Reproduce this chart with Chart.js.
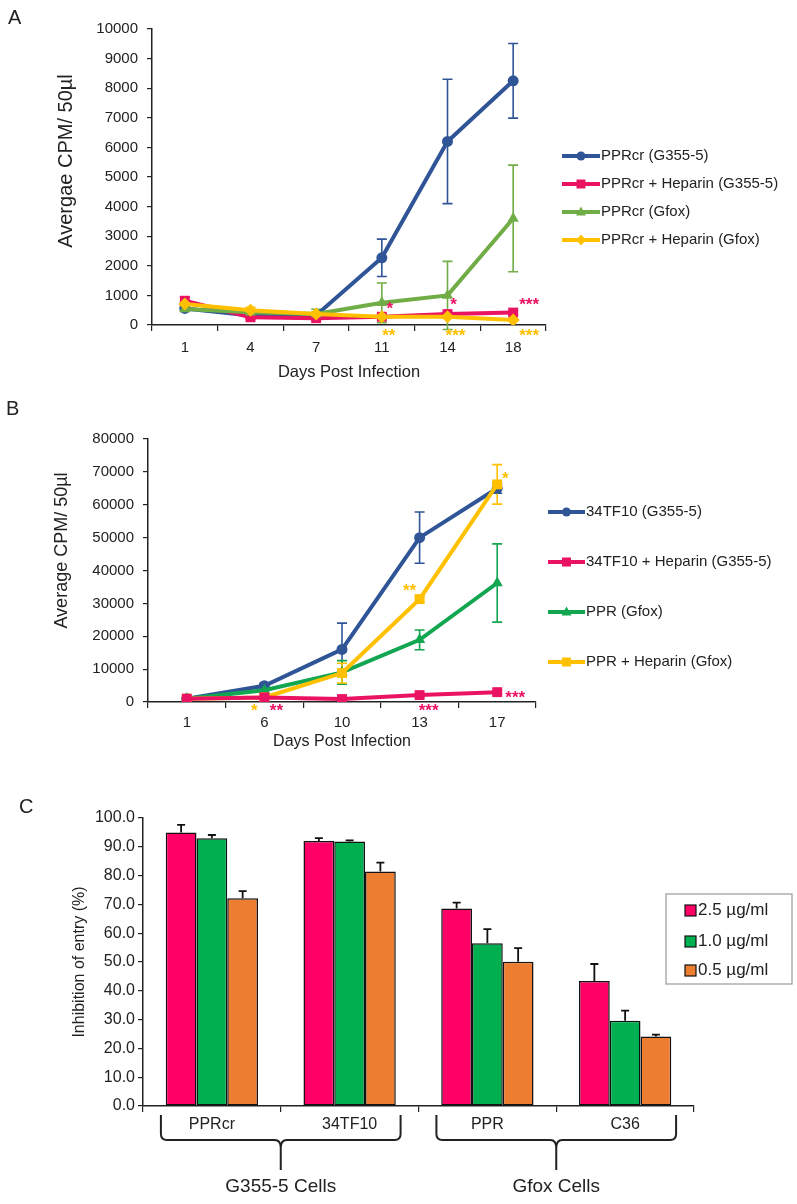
<!DOCTYPE html>
<html>
<head>
<meta charset="utf-8">
<script src="https://cdn.jsdelivr.net/npm/chart.js@4.4.1/dist/chart.umd.min.js"></script>
<style>
  body { margin: 0; background: #fff; }
  #page { position: relative; width: 797px; height: 1204px; overflow: hidden; font-family: "Liberation Sans", Arial, sans-serif; color: #222; }
  canvas { position: absolute; left: 0; }
  .tag { position: absolute; font-size: 20px; }
</style>
</head>
<body>
<div id="page">
  <canvas id="chartA" width="797" height="390" style="top:0"></canvas>
  <canvas id="chartB" width="797" height="378" style="top:392px"></canvas>
  <canvas id="chartC" width="797" height="414" style="top:790px"></canvas>
  <div class="tag" style="left:8px;top:6px">A</div>
  <div class="tag" style="left:6px;top:397px">B</div>
  <div class="tag" style="left:19px;top:795px">C</div>
</div>
<script>
// ---- panel A data ----
var daysA = ['1', '4', '7', '11', '14', '18'];
var pprcrG355 = [560, 320, 330, 2270, 6200, 8250];
var pprcrG355Err = [40, 60, 50, 630, 2100, 1260];
var pprcrHepG355 = [820, 260, 230, 280, 370, 420];
var pprcrHepG355Err = [120, 60, 60, 60, 60, 60];
var pprcrGfox = [540, 430, 370, 750, 1000, 3600];
var pprcrGfoxErr = [60, 80, 160, 670, 1150, 1800];
var pprcrHepGfox = [710, 500, 370, 280, 280, 170];
var pprcrHepGfoxErr = [60, 100, 80, 40, 40, 40];

// ---- panel B data ----
var daysB = ['1', '6', '10', '13', '17'];
var tf10G355 = [1000, 4950, 16000, 50000, 65000];
var tf10G355Err = [300, 800, 8000, 7800, 1500];
var tf10HepG355 = [1000, 1400, 900, 2100, 3000];
var tf10HepG355Err = [300, 300, 300, 500, 500];
var pprGfox = [1000, 3600, 9000, 18900, 36200];
var pprGfoxErr = [300, 700, 3600, 3000, 11900];
var pprHepGfox = [1000, 1400, 8800, 31300, 66200];
var pprHepGfoxErr = [300, 500, 3000, 1000, 6000];

// ---- panel C data ----
var virusesC = ['PPRcr', '34TF10', 'PPR', 'C36'];
var hep25 = [95.0, 92.0, 68.6, 43.4];
var hep25Err = [2.6, 1.0, 2.0, 5.9];
var hep10 = [93.0, 91.8, 56.5, 29.6];
var hep10Err = [1.1, 0.4, 4.9, 3.5];
var hep05 = [72.1, 81.4, 50.1, 24.1];
var hep05Err = [2.5, 3.1, 4.7, 0.7];
var cellGroups = [[0, 1, 'G355-5 Cells'], [2, 3, 'Gfox Cells']];

// significance marks: [category, value, dx, text, colour]
var BLUE = '#2f5597', PINK = '#ea1262', GREEN_A = '#70ad47', GREEN_B = '#13a651', YELLOW = '#ffc000';
var starsA = [
  [3, 650, 8, '*', PINK], [4, 800, 6, '*', PINK], [5, 800, 16, '***', PINK],
  [3, -250, 7, '**', YELLOW], [4, -250, 8, '***', YELLOW], [5, -250, 16, '***', YELLOW]
];
var starsB = [
  [1, -1500, -10, '*', YELLOW], [1, -1500, 12, '**', PINK], [3, -1500, 9, '***', PINK],
  [4, 2300, 18, '***', PINK], [3, 35000, -10, '**', YELLOW], [4, 69000, 8, '*', YELLOW]
];

Chart.defaults.font.family = '"Liberation Sans", Arial, sans-serif';
Chart.defaults.color = '#222';

function drawMarker(ctx, style, x, y, r, color) {
  ctx.fillStyle = color;
  ctx.beginPath();
  if (style === 'circle') ctx.arc(x, y, r, 0, Math.PI * 2);
  else if (style === 'rect') ctx.rect(x - r, y - r, 2 * r, 2 * r);
  else if (style === 'triangle') { ctx.moveTo(x, y - r * 1.2); ctx.lineTo(x + r * 1.1, y + r * 0.8); ctx.lineTo(x - r * 1.1, y + r * 0.8); ctx.closePath(); }
  else { ctx.moveTo(x, y - r * 1.2); ctx.lineTo(x + r * 1.1, y); ctx.lineTo(x, y + r * 1.2); ctx.lineTo(x - r * 1.1, y); ctx.closePath(); }
  ctx.fill();
}

function drawErrors(chart, opts) {
  var ctx = chart.ctx, ys = chart.scales.y;
  chart.data.datasets.forEach(function(ds, i) {
    if (!ds.errors) return;
    var meta = chart.getDatasetMeta(i);
    ctx.save();
    ctx.strokeStyle = ds.errorColor || ds.borderColor;
    ctx.lineWidth = opts.width || 1.5;
    meta.data.forEach(function(el, j) {
      var v = ds.data[j], e = ds.errors[j];
      if (!e) return;
      var c = opts.cap || 4;
      var top = ys.getPixelForValue(v + e);
      var bot = ys.getPixelForValue(opts.upOnly ? v : v - e);
      ctx.beginPath();
      ctx.moveTo(el.x, top); ctx.lineTo(el.x, bot);
      ctx.moveTo(el.x - c, top); ctx.lineTo(el.x + c, top);
      if (!opts.upOnly) { ctx.moveTo(el.x - c, bot); ctx.lineTo(el.x + c, bot); }
      ctx.stroke();
    });
    ctx.restore();
  });
}

var errorBars = {
  id: 'errorBars',
  beforeDatasetsDraw: function(chart, args, opts) { if (!opts.onTop) drawErrors(chart, opts); },
  afterDatasetsDraw: function(chart, args, opts) { if (opts.onTop) drawErrors(chart, opts); }
};

var stars = {
  id: 'stars',
  afterDatasetsDraw: function(chart, args, opts) {
    if (!opts.marks) return;
    var ctx = chart.ctx, xs = chart.scales.x, ys = chart.scales.y;
    ctx.save();
    ctx.font = 'bold 17px "Liberation Sans", Arial, sans-serif';
    ctx.textAlign = 'center';
    ctx.textBaseline = 'middle';
    opts.marks.forEach(function(m) {
      ctx.fillStyle = m[4];
      ctx.fillText(m[3], xs.getPixelForValue(m[0]) + m[2], ys.getPixelForValue(m[1]) + 4);
    });
    ctx.restore();
  }
};

// y-axis title sits a little above the middle of the axis in the original
var yTitle = {
  id: 'yTitle',
  afterDraw: function(chart, args, opts) {
    if (!opts.text) return;
    var ctx = chart.ctx, ys = chart.scales.y;
    ctx.save();
    ctx.font = opts.size + 'px "Liberation Sans", Arial, sans-serif';
    ctx.fillStyle = '#222';
    ctx.textAlign = 'center';
    ctx.textBaseline = 'middle';
    ctx.translate(opts.x, (ys.top + ys.bottom) / 2 - opts.lift);
    ctx.rotate(-Math.PI / 2);
    ctx.fillText(opts.text, 0, 0);
    ctx.restore();
  }
};

// legend drawn beside the plot: line + marker for line charts, framed swatches for bars
var sideLegend = {
  id: 'sideLegend',
  afterDraw: function(chart, args, opts) {
    if (!opts.x) return;
    var ctx = chart.ctx;
    ctx.save();
    ctx.font = opts.fontSize + 'px "Liberation Sans", Arial, sans-serif';
    ctx.textBaseline = 'middle';
    ctx.textAlign = 'left';
    if (opts.box) {
      ctx.strokeStyle = '#9a9a9a';
      ctx.lineWidth = 1.2;
      ctx.strokeRect(opts.box[0], opts.box[1], opts.box[2], opts.box[3]);
    }
    chart.data.datasets.forEach(function(ds, i) {
      var y = opts.ys[i];
      if (opts.swatch) {
        ctx.fillStyle = ds.backgroundColor;
        ctx.fillRect(opts.x, y - 5, 11, 11);
        ctx.strokeStyle = '#111';
        ctx.lineWidth = 1.2;
        ctx.strokeRect(opts.x, y - 5, 11, 11);
        ctx.fillStyle = '#222';
        ctx.fillText(ds.label, opts.x + 13, y);
      } else {
        ctx.strokeStyle = ds.borderColor;
        ctx.lineWidth = 4;
        ctx.beginPath();
        ctx.moveTo(opts.x, y); ctx.lineTo(opts.x + opts.len, y);
        ctx.stroke();
        drawMarker(ctx, ds.pointStyle, opts.x + opts.len / 2, y, 4.5, ds.borderColor);
        ctx.fillStyle = '#222';
        ctx.fillText(ds.label, opts.x + opts.len + 1, y);
      }
    });
    ctx.restore();
  }
};

var braces = {
  id: 'braces',
  afterDraw: function(chart, args, opts) {
    if (!opts.groups) return;
    var ctx = chart.ctx, xs = chart.scales.x;
    var w = xs.getPixelForValue(1) - xs.getPixelForValue(0);
    ctx.save();
    ctx.strokeStyle = '#222';
    ctx.lineWidth = 2;
    ctx.fillStyle = '#222';
    ctx.font = '19px "Liberation Sans", Arial, sans-serif';
    ctx.textAlign = 'center';
    ctx.textBaseline = 'middle';
    opts.groups.forEach(function(g) {
      var l = xs.getPixelForValue(g[0]) - w * 0.37;
      var r = xs.getPixelForValue(g[1]) + w * 0.37;
      var m = (l + r) / 2, t = opts.top, h = opts.mid, b = opts.tip;
      ctx.beginPath();
      ctx.moveTo(l, t); ctx.lineTo(l, h - 6); ctx.quadraticCurveTo(l, h, l + 6, h);
      ctx.lineTo(m - 6, h); ctx.quadraticCurveTo(m, h, m, h + 8); ctx.lineTo(m, b);
      ctx.moveTo(m, h + 8); ctx.quadraticCurveTo(m, h, m + 6, h);
      ctx.lineTo(r - 6, h); ctx.quadraticCurveTo(r, h, r, h - 6); ctx.lineTo(r, t);
      ctx.stroke();
      ctx.fillText(g[2], m, opts.textY);
    });
    ctx.restore();
  }
};

function lineSet(label, data, errs, color, style, radius, order) {
  return {
    label: label, data: data, errors: errs,
    borderColor: color, backgroundColor: color, borderWidth: 4,
    pointStyle: style, pointRadius: radius, pointBorderWidth: 0,
    tension: 0, fill: false, order: order
  };
}

function xAxis(height, title, titleSize, titlePad, tickSize, tickPad) {
  return {
    type: 'category', offset: true,
    afterFit: function(s) { s.height = height; },
    grid: { offset: true, drawOnChartArea: false, drawTicks: true, tickLength: 6, color: '#222', lineWidth: 1.2 },
    border: { color: '#222', width: 1.5 },
    ticks: { font: { size: tickSize }, padding: tickPad, color: '#222' },
    title: { display: !!title, text: title, font: { size: titleSize }, color: '#222', padding: { top: 0, bottom: titlePad } }
  };
}

function yAxis(width, max, step, tickSize, tickPad, fmt) {
  return {
    min: 0, max: max,
    afterFit: function(s) { s.width = width; },
    grid: { drawOnChartArea: false, drawTicks: true, tickLength: 5, color: '#222', lineWidth: 1.2 },
    border: { color: '#222', width: 1.5 },
    ticks: { stepSize: step, font: { size: tickSize }, padding: tickPad, color: '#222', callback: fmt },
    title: { display: false }
  };
}

var plain = function(v) { return String(v); };

new Chart(document.getElementById('chartA'), {
  type: 'line',
  data: {
    labels: daysA,
    datasets: [
      lineSet('PPRcr (G355-5)', pprcrG355, pprcrG355Err, BLUE, 'circle', 5.5, 4),
      lineSet('PPRcr + Heparin (G355-5)', pprcrHepG355, pprcrHepG355Err, PINK, 'rect', 7, 3),
      lineSet('PPRcr (Gfox)', pprcrGfox, pprcrGfoxErr, GREEN_A, 'triangle', 6.5, 2),
      lineSet('PPRcr + Heparin (Gfox)', pprcrHepGfox, pprcrHepGfoxErr, YELLOW, 'rectRot', 6.5, 1)
    ]
  },
  options: {
    responsive: false, animation: false,
    layout: { padding: { left: 0, right: 251, top: 29, bottom: 0 } },
    scales: {
      x: xAxis(65, 'Days Post Infection', 16.5, 8, 15, 8),
      y: yAxis(152, 10000, 1000, 15, 9, plain)
    },
    plugins: {
      legend: { display: false }, tooltip: { enabled: false },
      errorBars: { width: 1.6, cap: 5 },
      stars: { marks: starsA },
      yTitle: { text: 'Avergae CPM/ 50µl', size: 20, x: 66, lift: 16 },
      sideLegend: { x: 562, len: 38, ys: [156, 184, 212, 240], fontSize: 15 }
    }
  },
  plugins: [errorBars, stars, yTitle, sideLegend]
});

new Chart(document.getElementById('chartB'), {
  type: 'line',
  data: {
    labels: daysB,
    datasets: [
      lineSet('34TF10 (G355-5)', tf10G355, tf10G355Err, BLUE, 'circle', 5.5, 4),
      lineSet('34TF10 + Heparin (G355-5)', tf10HepG355, tf10HepG355Err, PINK, 'rect', 7, 1),
      lineSet('PPR (Gfox)', pprGfox, pprGfoxErr, GREEN_B, 'triangle', 6.5, 3),
      lineSet('PPR + Heparin (Gfox)', pprHepGfox, pprHepGfoxErr, YELLOW, 'rect', 7, 2)
    ]
  },
  options: {
    responsive: false, animation: false,
    layout: { padding: { left: 0, right: 261, top: 47, bottom: 0 } },
    scales: {
      x: xAxis(68, 'Days Post Infection', 16, 19, 15, 6),
      y: yAxis(148, 80000, 10000, 15, 9, plain)
    },
    plugins: {
      legend: { display: false }, tooltip: { enabled: false },
      errorBars: { width: 1.6, cap: 5 },
      stars: { marks: starsB },
      yTitle: { text: 'Average CPM/ 50µl', size: 18, x: 62, lift: 20 },
      sideLegend: { x: 548, len: 37, ys: [120, 170, 220, 270], fontSize: 15 }
    }
  },
  plugins: [errorBars, stars, yTitle, sideLegend]
});

function barSet(label, data, errs, color) {
  return {
    label: label, data: data, errors: errs, errorColor: '#111',
    backgroundColor: color, borderColor: '#111', borderWidth: 1.5, borderSkipped: false,
    barPercentage: 1, categoryPercentage: 0.67
  };
}

new Chart(document.getElementById('chartC'), {
  type: 'bar',
  data: {
    labels: virusesC,
    datasets: [
      barSet('2.5 µg/ml', hep25, hep25Err, '#ff0066'),
      barSet('1.0 µg/ml', hep10, hep10Err, '#00b050'),
      barSet('0.5 µg/ml', hep05, hep05Err, '#ed7d31')
    ]
  },
  options: {
    responsive: false, animation: false,
    layout: { padding: { left: 0, right: 103, top: 28, bottom: 0 } },
    scales: {
      x: xAxis(98, '', 16, 0, 16, 3),
      y: yAxis(143, 100, 10, 16, 3, function(v) { return v.toFixed(1); })
    },
    plugins: {
      legend: { display: false }, tooltip: { enabled: false },
      errorBars: { width: 1.8, cap: 4, upOnly: true, onTop: true },
      yTitle: { text: 'Inhibition of entry (%)', size: 16, x: 80, lift: 0 },
      sideLegend: { x: 685, ys: [120, 151, 180], fontSize: 17, swatch: true, box: [666, 104, 126, 90] },
      braces: { groups: cellGroups, top: 325, mid: 350, tip: 380, textY: 397 }
    }
  },
  plugins: [errorBars, yTitle, sideLegend, braces]
});
</script>
</body>
</html>
